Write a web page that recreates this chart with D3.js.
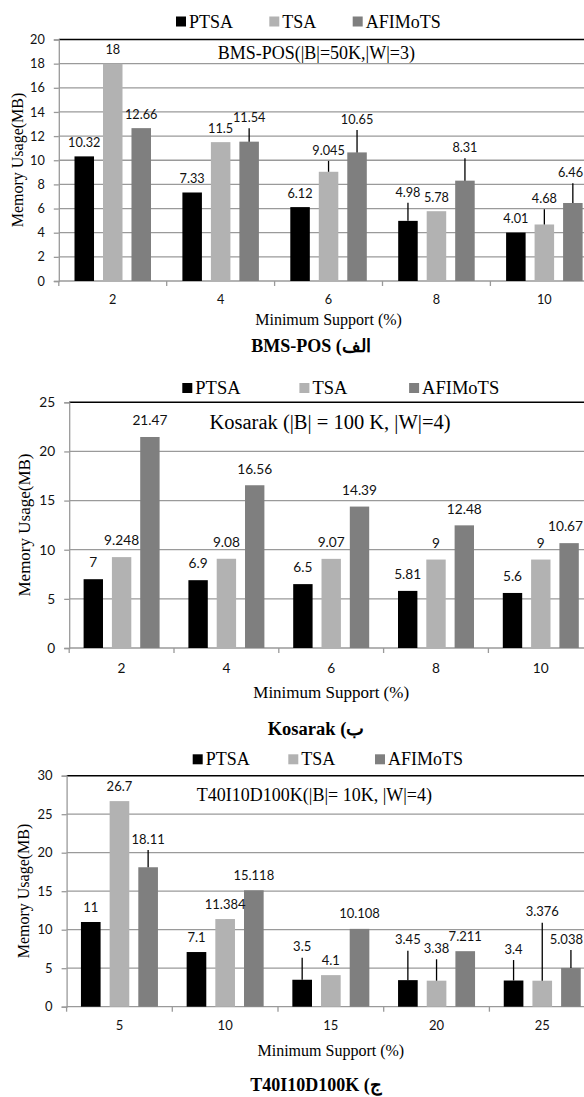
<!DOCTYPE html>
<html><head><meta charset="utf-8">
<script src="https://cdn.jsdelivr.net/npm/d3@7"></script>
<style>html,body{margin:0;padding:0;background:#fff}</style>
</head><body>
<svg id="c" width="584" height="1097"></svg>
<script>
// ---------- data ----------
const seriesNames = ["PTSA", "TSA", "AFIMoTS"];

// (a) BMS-POS
const bmsCategories = ["2", "4", "6", "8", "10"];
const bmsPTSA = [10.32, 7.33, 6.12, 4.98, 4.01];
const bmsTSA = [18, 11.5, 9.045, 5.78, 4.68];
const bmsAFIMoTS = [12.66, 11.54, 10.65, 8.31, 6.46];
const bmsErrPTSA = [0, 0, 0, 1.5, 0];
const bmsErrTSA = [0, 0, 0.9, 0, 1.26];
const bmsErrAFIMoTS = [0, 1.11, 1.85, 1.85, 1.63];
const bmsTicks = [0, 2, 4, 6, 8, 10, 12, 14, 16, 18, 20];

// (b) Kosarak
const kosCategories = ["2", "4", "6", "8", "10"];
const kosPTSA = [7, 6.9, 6.5, 5.81, 5.6];
const kosTSA = [9.248, 9.08, 9.07, 9, 9];
const kosAFIMoTS = [21.47, 16.56, 14.39, 12.48, 10.67];
const kosErrPTSA = [0, 0, 0, 0, 0];
const kosErrTSA = [0, 0, 0, 0, 0];
const kosErrAFIMoTS = [0, 0, 0, 0, 0];
const kosTicks = [0, 5, 10, 15, 20, 25];

// (c) T40I10D100K
const tCategories = ["5", "10", "15", "20", "25"];
const tPTSA = [11, 7.1, 3.5, 3.45, 3.4];
const tTSA = [26.7, 11.384, 4.1, 3.38, 3.376];
const tAFIMoTS = [18.11, 15.118, 10.108, 7.211, 5.038];
const tErrPTSA = [0, 0, 2.86, 3.82, 2.66];
const tErrTSA = [0, 0, 0, 2.78, 7.53];
const tErrAFIMoTS = [2.24, 0, 0, 0, 2.33];
const tTicks = [0, 5, 10, 15, 20, 25, 30];

const titles = ["BMS-POS(|B|=50K,|W|=3)", "Kosarak (|B| = 100 K, |W|=4)", "T40I10D100K(|B|= 10K, |W|=4)"];
const captions = ["BMS-POS (الف", "Kosarak (ب", "T40I10D100K (ج"];
const xAxisTitle = "Minimum Support (%)";
const yAxisTitle = "Memory Usage(MB)";

// ---------- styles / layout ----------
const colors = ["#000000", "#b2b2b2", "#7f7f7f"];
const gridColor = "#9a9a9a";
const serif = "'Liberation Serif','Times New Roman',serif";
const sans = "Lato,'Open Sans',sans-serif";

const layouts = [
  {left: 58.8, band: 107.9, y0: 281, yTop: 39.5, groupW: 76.5,
   legendX: [176, 269.3, 352.7], legendTop: 16.5, legendBase: 28, legendFont: 18,
   titleX: 316.3, titleY: 59, titleFont: 18, tickFont: 12.7, labelFont: 12.7,
   xLabelY: 303.5, axisTitleY: 325, axisTitleFont: 16, capX: 311, capY: 352, capFont: 18,
   yTitleX: 23, yTitleY: 160, yTitleFont: 16, offBar: 14, offErr: 10.5},
  {left: 69.2, band: 104.8, y0: 648, yTop: 402.3, groupW: 76,
   legendX: [182.3, 299.4, 409.1], legendTop: 383, legendBase: 393.5, legendFont: 18.5,
   titleX: 330, titleY: 429, titleFont: 20.5, tickFont: 13.7, labelFont: 13.7,
   xLabelY: 673.3, axisTitleY: 698, axisTitleFont: 17, capX: 316, capY: 735, capFont: 18.5,
   yTitleX: 30, yTitleY: 525, yTitleFont: 17, offBar: 16.5, offErr: 11},
  {left: 66.6, band: 105.7, y0: 1006.7, yTop: 775.7, groupW: 77,
   legendX: [192.7, 288.3, 375], legendTop: 754.3, legendBase: 765, legendFont: 18,
   titleX: 314.4, titleY: 801, titleFont: 18, tickFont: 13, labelFont: 13,
   xLabelY: 1030, axisTitleY: 1055.6, axisTitleFont: 16, capX: 316, capY: 1091, capFont: 18,
   yTitleX: 29, yTitleY: 891, yTitleFont: 16, offBar: 15, offErr: 11}
];

const charts = [
  {cats: bmsCategories, vals: [bmsPTSA, bmsTSA, bmsAFIMoTS], errs: [bmsErrPTSA, bmsErrTSA, bmsErrAFIMoTS], ticks: bmsTicks},
  {cats: kosCategories, vals: [kosPTSA, kosTSA, kosAFIMoTS], errs: [kosErrPTSA, kosErrTSA, kosErrAFIMoTS], ticks: kosTicks},
  {cats: tCategories, vals: [tPTSA, tTSA, tAFIMoTS], errs: [tErrPTSA, tErrTSA, tErrAFIMoTS], ticks: tTicks}
];

const W = 584;
const svg = d3.select("#c");
svg.append("rect").attr("width", W).attr("height", 1097).attr("fill", "#fff");

charts.forEach((ch, ci) => {
  const L = layouts[ci];
  const g = svg.append("g");
  const right = L.left + L.band * ch.cats.length;
  const yMax = ch.ticks[ch.ticks.length - 1];
  const y = d3.scaleLinear().domain([0, yMax]).range([L.y0, L.yTop]);
  const x0 = d3.scaleBand().domain(ch.cats).range([L.left, right]).padding(0);
  const x1 = d3.scaleBand().domain(seriesNames)
    .range([(L.band - L.groupW) / 2, (L.band + L.groupW) / 2]).paddingInner(0.315).paddingOuter(0);

  // gridlines
  g.selectAll(".grid").data(ch.ticks.slice(1, -1)).enter().append("line")
    .attr("x1", L.left).attr("x2", W).attr("y1", d => y(d)).attr("y2", d => y(d))
    .attr("stroke", gridColor).attr("stroke-width", 1.3);
  // top border
  g.append("line").attr("x1", L.left).attr("x2", W).attr("y1", y(yMax)).attr("y2", y(yMax))
    .attr("stroke", "#000").attr("stroke-width", 1.4);

  // y axis
  const yAxis = d3.axisLeft(y).tickValues(ch.ticks).tickSize(5).tickPadding(9).tickFormat(d3.format("d"));
  const ya = g.append("g").attr("transform", `translate(${L.left},0)`).call(yAxis);
  ya.select(".domain").attr("stroke", gridColor).attr("stroke-width", 1.3);
  ya.selectAll(".tick line").attr("stroke", gridColor).attr("stroke-width", 1.3);
  ya.selectAll(".tick text").attr("font-family", sans).attr("font-size", L.tickFont).attr("fill", "#111");

  // x axis line + ticks at band boundaries
  g.append("line").attr("x1", L.left).attr("x2", W).attr("y1", L.y0).attr("y2", L.y0)
    .attr("stroke", gridColor).attr("stroke-width", 1.3);
  const bounds = ch.cats.map(c => x0(c)).concat([right]);
  g.selectAll(".xt").data(bounds).enter().append("line")
    .attr("x1", d => d).attr("x2", d => d).attr("y1", L.y0).attr("y2", L.y0 + 5)
    .attr("stroke", gridColor).attr("stroke-width", 1.3);
  g.selectAll(".xl").data(ch.cats).enter().append("text")
    .attr("x", d => x0(d) + L.band / 2).attr("y", L.xLabelY)
    .attr("text-anchor", "middle").attr("font-family", sans).attr("font-size", L.tickFont)
    .attr("fill", "#111").text(d => d);

  // bars
  const recs = [];
  ch.cats.forEach((c, i) => seriesNames.forEach((s, si) => {
    recs.push({c, s, si, v: ch.vals[si][i], e: ch.errs[si][i]});
  }));
  const cx = d => x0(d.c) + x1(d.s) + x1.bandwidth() / 2;
  const gb = g.append("g");
  gb.selectAll("rect").data(recs).enter().append("rect")
    .attr("x", d => x0(d.c) + x1(d.s)).attr("width", x1.bandwidth())
    .attr("y", d => y(d.v)).attr("height", d => L.y0 - y(d.v))
    .attr("fill", d => colors[d.si]);

  // error bars (plus direction)
  gb.selectAll(".err").data(recs.filter(d => d.e > 0)).enter().append("line")
    .attr("x1", cx).attr("x2", cx)
    .attr("y1", d => y(d.v)).attr("y2", d => y(d.v + d.e))
    .attr("stroke", "#000").attr("stroke-width", 1.3);

  // value labels (kept inside the picture at the right edge)
  gb.selectAll(".lab").data(recs).enter().append("text")
    .attr("x", cx)
    .attr("y", d => (d.e > 0 ? y(d.v + d.e) - L.offErr : y(d.v) - L.offBar) + L.labelFont * 0.35)
    .attr("text-anchor", "middle").attr("font-family", sans).attr("font-size", L.labelFont)
    .attr("fill", "#111").text(d => String(d.v))
    .each(function(d) {
      const w = this.getComputedTextLength();
      const c = cx(d);
      if (c + w / 2 > W - 1) d3.select(this).attr("x", W - 1 - w / 2);
    });

  // inner title
  g.append("text").attr("x", L.titleX).attr("y", L.titleY).attr("text-anchor", "middle")
    .attr("font-family", serif).attr("font-size", L.titleFont).attr("fill", "#000").text(titles[ci]);

  // legend
  const lg = g.append("g");
  seriesNames.forEach((s, si) => {
    lg.append("rect").attr("x", L.legendX[si]).attr("y", L.legendTop).attr("width", 10).attr("height", 10)
      .attr("fill", colors[si]);
    lg.append("text").attr("x", L.legendX[si] + 13).attr("y", L.legendBase)
      .attr("font-family", serif).attr("font-size", L.legendFont).attr("fill", "#000").text(s);
  });

  // axis titles
  g.append("text").attr("x", (L.left + right) / 2).attr("y", L.axisTitleY).attr("text-anchor", "middle")
    .attr("font-family", serif).attr("font-size", L.axisTitleFont).attr("fill", "#000").text(xAxisTitle);
  g.append("text").attr("transform", `translate(${L.yTitleX},${L.yTitleY}) rotate(-90)`)
    .attr("text-anchor", "middle").attr("font-family", serif).attr("font-size", L.yTitleFont)
    .attr("fill", "#000").text(yAxisTitle);

  // caption
  g.append("text").attr("x", L.capX).attr("y", L.capY).attr("text-anchor", "middle")
    .attr("font-family", serif).attr("font-weight", "bold").attr("font-size", L.capFont)
    .attr("fill", "#000").text(captions[ci]);
});
</script>
</body></html>
